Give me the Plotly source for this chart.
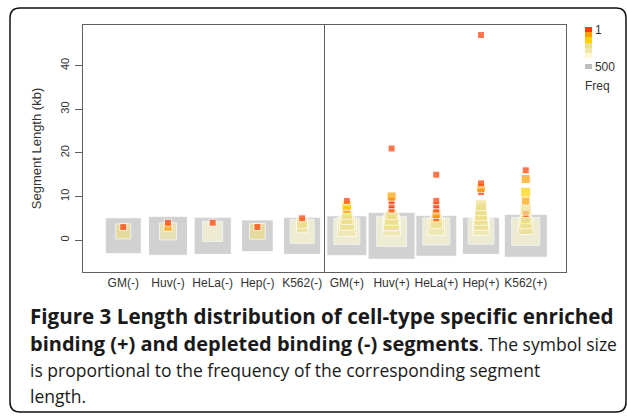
import numpy as np
import plotly.graph_objects as go

categories = ["GM(-)", "Huv(-)", "HeLa(-)", "Hep(-)", "K562(-)",
              "GM(+)", "Huv(+)", "HeLa(+)", "Hep(+)", "K562(+)"]

# segment length (kb) and frequency, per cell-type group
gm_neg_len = [1, 2, 3]
gm_neg_freq = [387, 30, 1]
huv_neg_len = [1, 2, 3, 4]
huv_neg_freq = [470, 47, 2, 1]
hela_neg_len = [1, 2, 4]
hela_neg_freq = [420, 80, 1]
hep_neg_len = [1, 2, 3]
hep_neg_freq = [281, 35, 1]
k562_neg_len = [1, 2, 3, 4, 5]
k562_neg_freq = [420, 134, 10, 9, 1]

gm_pos_len = [1, 2, 3, 4, 5, 6, 7, 8, 9]
gm_pos_freq = [500, 167, 67, 30, 13, 8, 2, 5, 1]
huv_pos_len = [1, 2, 3, 4, 5, 6, 7, 8, 9, 10, 21]
huv_pos_freq = [734, 243, 56, 38, 23, 8, 1, 1, 1, 3, 1]
hela_pos_len = [1, 2, 3, 4, 5, 6, 7, 8, 9, 15]
hela_pos_freq = [530, 185, 45, 13, 1, 3, 1, 1, 1, 1]
hep_pos_len = [1, 2, 3, 4, 5, 6, 7, 8, 11, 12, 13, 47]
hep_pos_freq = [420, 160, 44, 30, 23, 17, 13, 8, 1, 3, 1, 1]
k562_pos_len = [1, 2, 3, 4, 5, 6, 7, 9, 11, 14, 16]
k562_pos_freq = [595, 203, 30, 12, 8, 1, 9, 2, 5, 3, 1]

y_ticks = [0, 10, 20, 30, 40]
legend_labels = ["1", "500"]

groups = [
    (gm_neg_len, gm_neg_freq), (huv_neg_len, huv_neg_freq),
    (hela_neg_len, hela_neg_freq), (hep_neg_len, hep_neg_freq),
    (k562_neg_len, k562_neg_freq),
    (gm_pos_len, gm_pos_freq), (huv_pos_len, huv_pos_freq),
    (hela_pos_len, hela_pos_freq), (hep_pos_len, hep_pos_freq),
    (k562_pos_len, k562_pos_freq),
]

# frequency bins -> colour band index (0 = most frequent / gray, 7 = 1 / red)
bin_edges = [1, 2, 4, 7, 40, 80, 280]
band_of_bin = [7, 6, 5, 4, 3, 2, 0]
band_colors = ["#BEBEBE", "#FFFFFF", "#FAF7D2", "#F0E8A8", "#EDDF88",
               "#FFD200", "#FF9F00", "#FF3C00"]

xs, ys, sizes, cols = [], [], [], []
for gi, (lens, freqs) in enumerate(groups):
    for L, f in sorted(zip(lens, freqs)):
        xs.append(gi + 1)
        ys.append(L)
        sizes.append(7 + 33 * np.sqrt((f - 1) / 499.0))
        b = int(np.searchsorted(bin_edges, f, side="right") - 1)
        cols.append(band_of_bin[b])

n = len(band_colors)
cscale = []
for i, c in enumerate(band_colors):
    cscale.append([i / n, c])
    cscale.append([(i + 1) / n, c])

W, H = 627, 418
L_, R_, T_, B_ = 83, 566, 25, 272


def px(x):
    return (x - L_) / (R_ - L_)


def py(y):
    return (B_ - y) / (B_ - T_)


fig = go.Figure()
fig.add_trace(go.Scatter(
    x=xs, y=ys, mode="markers", hoverinfo="skip", showlegend=False,
    marker=dict(
        symbol="square", size=sizes, color=cols, colorscale=cscale,
        cmin=-0.5, cmax=n - 0.5, line=dict(color="white", width=1),
        colorbar=dict(
            x=px(585), xanchor="left",
            y=py(48), yanchor="middle",
            lenmode="pixels", len=42, thickness=7, outlinewidth=0,
            tickvals=[n - 1, 0], ticktext=legend_labels, ticks="",
            ticklabelposition="outside",
            tickfont=dict(family="Liberation Sans", size=12, color="#333"),
            xpad=0, ypad=0,
        ),
    ),
))

# divider between depleted (-) and enriched (+) groups
fig.add_shape(type="line", xref="x", yref="paper", x0=5.5, x1=5.5, y0=0, y1=1,
              line=dict(color="#606060", width=1))

# rounded frame around the whole figure
l, t, r, b, rad = 10, 8, 626, 412, 10
path = (f"M {px(l + rad)},{py(t)} L {px(r - rad)},{py(t)} "
        f"Q {px(r)},{py(t)} {px(r)},{py(t + rad)} "
        f"L {px(r)},{py(b - rad)} Q {px(r)},{py(b)} {px(r - rad)},{py(b)} "
        f"L {px(l + rad)},{py(b)} Q {px(l)},{py(b)} {px(l)},{py(b - rad)} "
        f"L {px(l)},{py(t + rad)} Q {px(l)},{py(t)} {px(l + rad)},{py(t)} Z")
fig.add_shape(type="path", xref="paper", yref="paper", path=path,
              line=dict(color="#111", width=1.5), layer="below")

cap_font = "Open Sans"
B1 = '<span style="font-size:20.6px"><b>{}</b></span>'
B = '<span style="font-size:20px"><b>{}</b></span>'
N = '<span style="font-size:17.5px">{}</span>'
lines = [
    (B1.format("Figure 3 Length distribution of cell-type specific enriched"), 316),
    (B.format("binding (+) and depleted binding (-) segments") + N.format(". The symbol size"), 343),
    (N.format("is proportional to the frequency of the corresponding segment"), 370),
    (N.format("length."), 396),
]
for txt, yy in lines:
    fig.add_annotation(text=txt, xref="paper", yref="paper", x=px(28), y=py(yy),
                       xanchor="left", yanchor="middle", showarrow=False,
                       font=dict(family=cap_font, size=18, color="#1a1a1a"))

fig.add_annotation(text="Freq", xref="paper", yref="paper", x=px(583), y=py(86),
                   xanchor="left", yanchor="middle", showarrow=False,
                   font=dict(family="Liberation Sans", size=12, color="#333"))

axis_font = dict(family="Liberation Sans", size=12, color="#333")
fig.update_layout(
    width=W, height=H,
    margin=dict(l=L_, r=W - R_, t=T_, b=H - B_, autoexpand=False),
    paper_bgcolor="white", plot_bgcolor="white",
    xaxis=dict(range=[0.1, 10.9], tickvals=list(range(1, 11)), ticktext=categories,
               showgrid=False, zeroline=False, ticks="", showline=True, mirror=True,
               linecolor="#606060", linewidth=1, tickfont=axis_font,
               automargin=False),
    yaxis=dict(range=[-7.3, 49.3], tickvals=y_ticks, showgrid=False, zeroline=False,
               ticks="outside", ticklen=7, tickcolor="#606060", tickangle=-90,
               ticklabelstandoff=2,
               showline=True, mirror=True, linecolor="#606060", linewidth=1,
               tickfont=dict(family="Liberation Sans", size=11, color="#333"),
               automargin=False,
               title=dict(text="Segment Length (kb)",
                          font=dict(family="Liberation Sans", size=13, color="#333"),
                          standoff=14)),
)

fig.write_html("out.html", config={"displayModeBar": False},
               post_script="document.body.style.margin='0';")
